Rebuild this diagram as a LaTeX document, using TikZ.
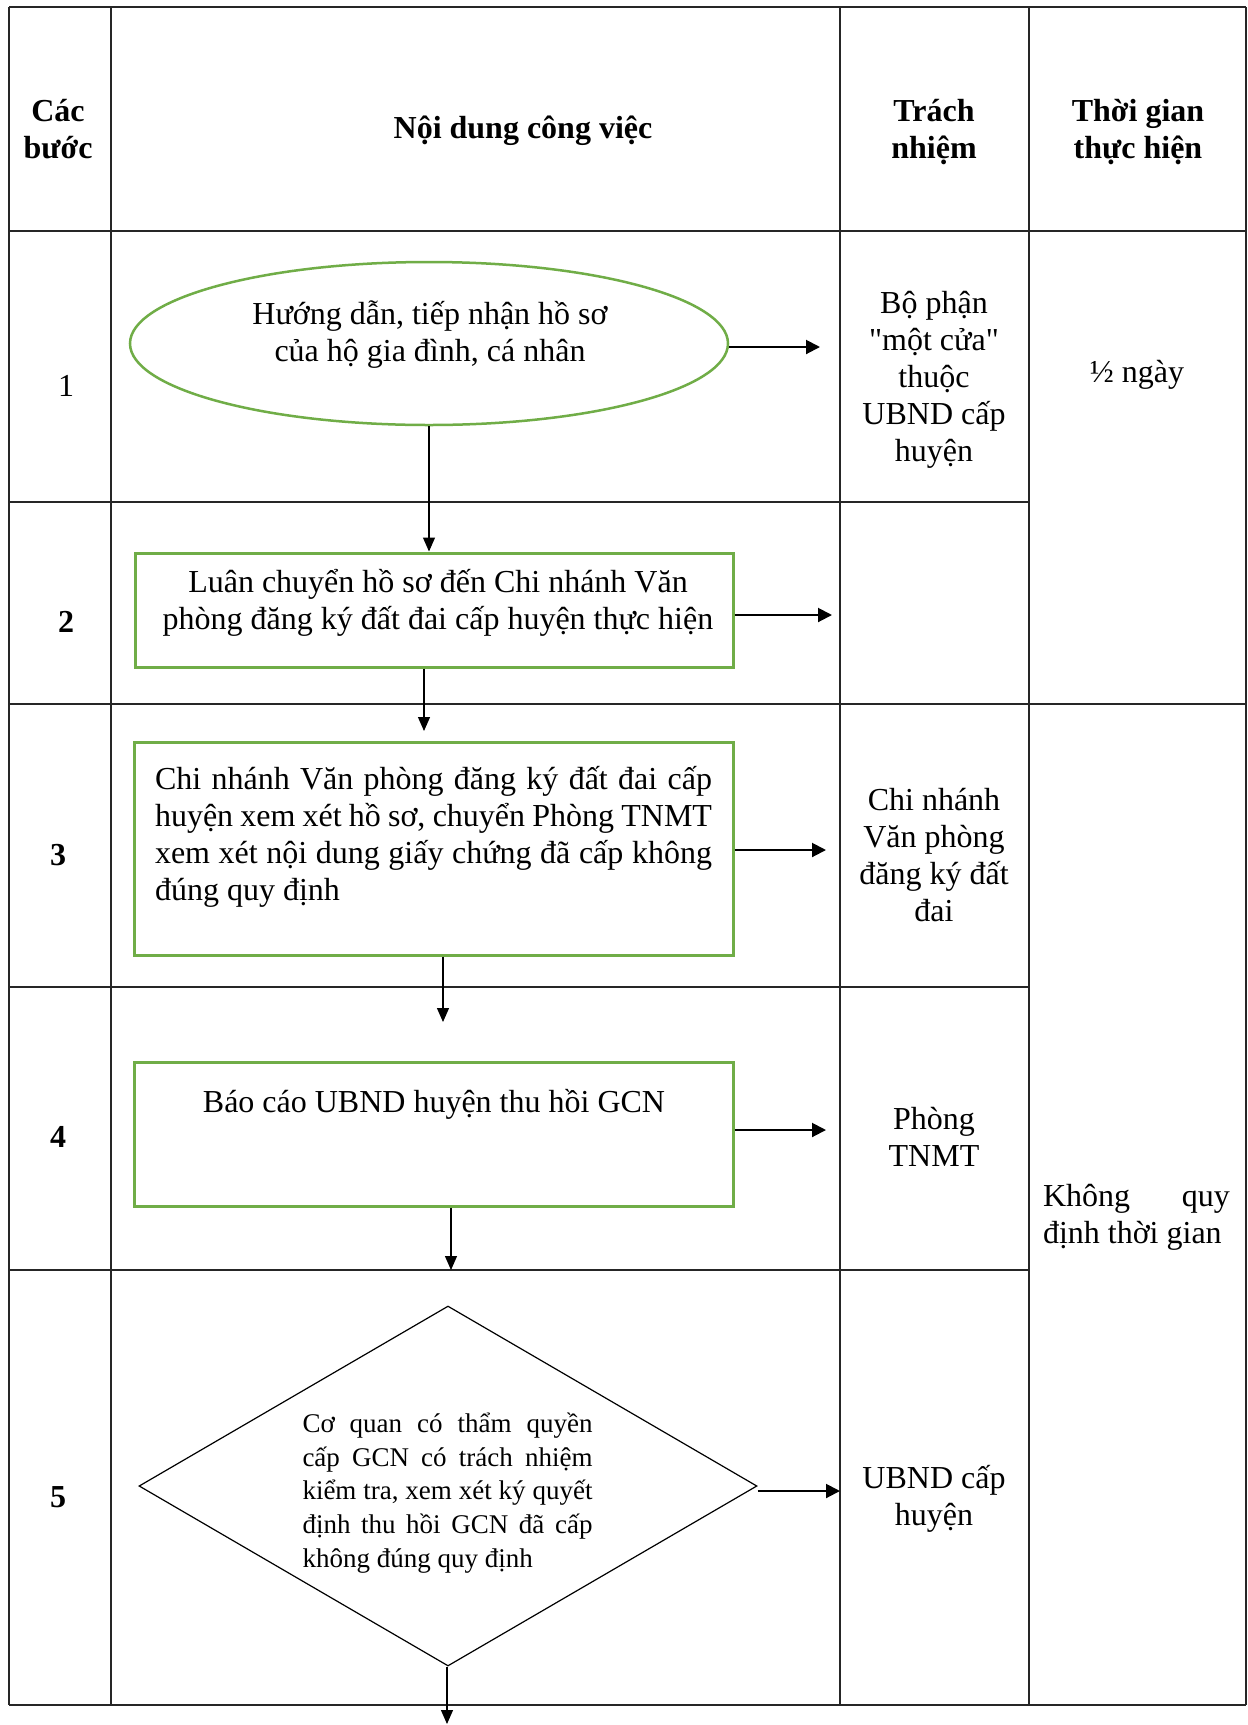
\documentclass[tikz,border=0pt]{standalone}
\usepackage{fontspec}
\setmainfont{Liberation Serif}
\newfontfamily\qfont{Liberation Serif}[Ligatures=TeXOff]
\usetikzlibrary{shapes.geometric,arrows.meta}
\hyphenpenalty=10000
\exhyphenpenalty=10000
\tolerance=9999
\definecolor{wgreen}{HTML}{70AD47}
\tikzset{
  tbl/.style={draw=black!85, line width=0.8pt},
  txt/.style={font=\fontsize{16}{18.5}\selectfont, inner sep=0pt},
  hdr/.style={font=\fontsize{16}{18.3}\selectfont\bfseries, inner sep=0pt, align=center},
  stepn/.style={font=\fontsize{16}{18.3}\selectfont, inner sep=0pt},
  stepb/.style={font=\fontsize{16}{18.3}\selectfont\bfseries, inner sep=0pt},
  gbox/.style={draw=wgreen, line width=1.5pt, rectangle, inner sep=0pt},
  gell/.style={draw=wgreen, line width=1.25pt, ellipse, inner sep=0pt},
  dia/.style={draw=black, line width=0.6pt, diamond, inner sep=0pt},
  harrow/.style={draw=black, line width=1pt, -{Triangle[length=7pt,width=7pt]}},
  varrow/.style={draw=black, line width=0.6pt, -{Triangle[length=7pt,width=6pt]}}
}
\begin{document}
\begin{tikzpicture}[x=0.5pt,y=-0.5pt]
\useasboundingbox (0,0) rectangle (1248,1725);
\fill[white] (0,0) rectangle (1248,1725);

% table grid
\draw[tbl] (9,7) -- (1246,7);
\draw[tbl] (9,231) -- (1246,231);
\draw[tbl] (9,502) -- (1029,502);
\draw[tbl] (9,704) -- (1246,704);
\draw[tbl] (9,987) -- (1029,987);
\draw[tbl] (9,1270) -- (1029,1270);
\draw[tbl] (9,1705) -- (1246,1705);
\draw[tbl] (9,7) -- (9,1705);
\draw[tbl] (111,7) -- (111,1705);
\draw[tbl] (840,7) -- (840,1705);
\draw[tbl] (1029,7) -- (1029,1705);
\draw[tbl] (1246,7) -- (1246,1705);

% header
\node[hdr] (h1) at (58,129) {Các\\bước};
\node[hdr] (h2) at (523,131) {Nội dung công việc};
\node[hdr] (h3) at (934,132) {Trách\\nhiệm};
\node[hdr] (h4) at (1138,132) {Thời gian\\thực hiện};

% step numbers
\node[stepn] (s1) at (66,386) {1};
\node[stepb] (s2) at (66,622) {2};
\node[stepb] (s3) at (58,855) {3};
\node[stepb] (s4) at (58,1137) {4};
\node[stepb] (s5) at (58,1497) {5};

% shapes
\node[gell, minimum width=299pt, minimum height=81.5pt] (ell) at (429,343.5) {};
\node[txt, align=center] (t1) at (430,335) {Hướng dẫn, tiếp nhận hồ sơ\\của hộ gia đình, cá nhân};

\node[gbox, minimum width=299pt, minimum height=57pt] (b2) at (434,610) {};
\node[txt, align=center] (t2) at (438,603) {Luân chuyển hồ sơ đến Chi nhánh Văn\\phòng đăng ký đất đai cấp huyện thực hiện};

\node[gbox, minimum width=299.5pt, minimum height=106.5pt] (b3) at (433.5,848.5) {};
\node[txt, text width=278.5pt, align=justify] (t3) at (433.5,837) {Chi nhánh Văn phòng đăng ký đất đai cấp\linebreak huyện xem xét hồ sơ, chuyển Phòng TNMT\linebreak xem xét nội dung giấy chứng đã cấp không\linebreak đúng quy định};

\node[gbox, minimum width=299.5pt, minimum height=72pt] (b4) at (433.5,1134) {};
\node[txt, anchor=base] (t4) at (434,1112) {Báo cáo UBND huyện thu hồi GCN};

\node[dia, minimum width=309pt, minimum height=180pt] (d5) at (448,1486) {};
\node[txt, font=\fontsize{13.5}{16.85}\selectfont, text width=145pt, align=justify] (t5) at (447.5,1493) {Cơ quan có thẩm quyền\linebreak cấp GCN có trách nhiệm\linebreak kiểm tra, xem xét ký quyết\linebreak định thu hồi GCN đã cấp\linebreak không đúng quy định};

% responsibility column
\node[txt, align=center] (r1) at (934,380) {Bộ phận\\{\qfont"}một cửa{\qfont"}\\thuộc\\UBND cấp\\huyện};
\node[txt, align=center] (r3) at (934,855) {Chi nhánh\\Văn phòng\\đăng ký đất\\đai};
\node[txt, align=center] (r4) at (934,1137) {Phòng\\TNMT};
\node[txt, align=center] (r5) at (934,1499) {UBND cấp\\huyện};

% time column
\node[txt, anchor=base] (c1) at (1137,382) {½ ngày};
\node[txt, text width=93.5pt, align=justify] (c2) at (1136.5,1217) {Không quy\linebreak định thời gian};

% horizontal arrows
\coordinate (a1) at (820,347);
\coordinate (a2) at (832,615);
\coordinate (a3) at (826,850);
\coordinate (a4) at (826,1130);
\coordinate (a5) at (840,1491);
\draw[harrow] (ell.east |- a1) -- (a1);
\draw[harrow] (b2.east |- a2) -- (a2);
\draw[harrow] (b3.east |- a3) -- (a3);
\draw[harrow] (b4.east |- a4) -- (a4);
\draw[harrow] (d5.east |- a5) -- (a5);

% vertical arrows
\coordinate (v2) at (424,731);
\coordinate (v3) at (443,1022);
\coordinate (v4) at (451,1270);
\coordinate (v5) at (447,1724);
\draw[varrow] (ell.south) -- (ell.south |- b2.north);
\draw[varrow] (b2.south -| v2) -- (v2);
\draw[varrow] (b3.south -| v3) -- (v3);
\draw[varrow] (b4.south -| v4) -- (v4);
\draw[varrow] (d5.south -| v5) -- (v5);
\end{tikzpicture}
\end{document}
